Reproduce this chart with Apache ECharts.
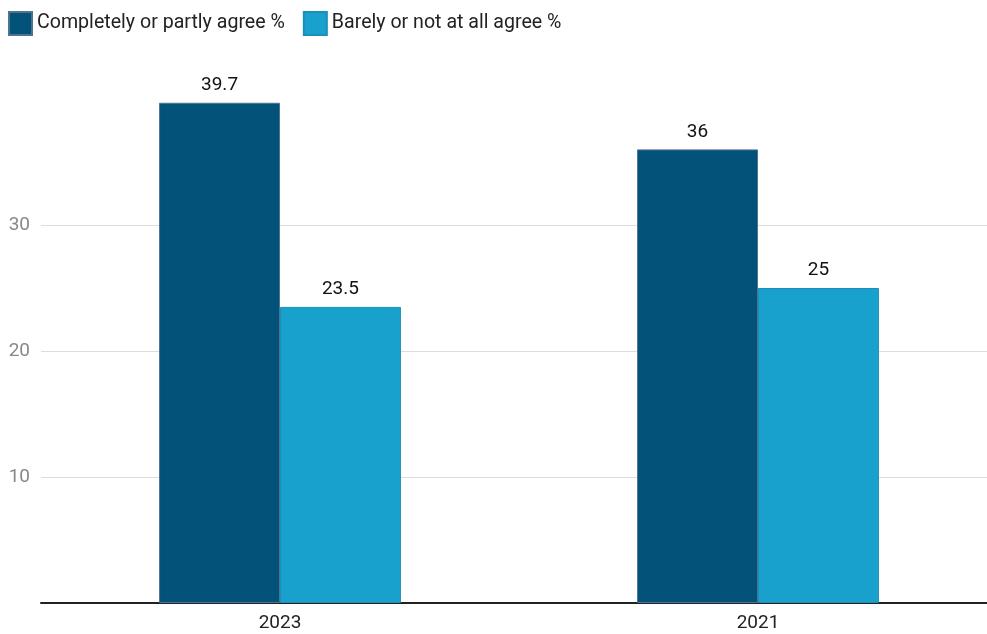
<!DOCTYPE html>
<html>
<head>
<meta charset="utf-8">
<script src="https://cdn.jsdelivr.net/npm/echarts@6/dist/echarts.min.js"></script>
<style>
  html, body { margin: 0; padding: 0; background: #fff; }
  #chart { width: 987px; height: 634px; }
</style>
</head>
<body>
<div id="chart"></div>
<script>
const years = ["2023", "2021"];
const agree = [39.7, 36];
const disagree = [23.5, 25];
const seriesNames = ["Completely or partly agree %", "Barely or not at all agree %"];

const chart = echarts.init(document.getElementById("chart"));

const labelStyle = {
  show: true,
  position: "top",
  distance: 8,
  color: "#111",
  fontSize: 19,
  fontFamily: "Roboto",
};

chart.setOption({
  animation: false,
  textStyle: { fontFamily: "Roboto" },
  legend: {
    left: 3,
    top: 6,
    itemWidth: 23,
    itemHeight: 23,
    itemGap: 18,
    icon: "rect",
    textStyle: { fontSize: 19.6, color: "#222", fontFamily: "Roboto", padding: [0, 0, 0, 0] },
    data: seriesNames,
  },
  // the plot runs a little past the right edge of the canvas
  grid: { left: 41, width: 956, top: 99, bottom: 31, outerBoundsMode: "none", containLabel: false },
  xAxis: {
    type: "category",
    data: years,
    axisLine: { lineStyle: { color: "#222", width: 2 } },
    axisTick: { show: false },
    axisLabel: { fontSize: 19, color: "#222", margin: 11, fontFamily: "Roboto" },
  },
  yAxis: {
    type: "value",
    min: 0,
    max: 40,
    interval: 10,
    axisLine: { show: false },
    axisTick: { show: false },
    axisLabel: {
      fontSize: 19,
      color: "#888",
      margin: 11,
      showMinLabel: false,
      showMaxLabel: false,
      fontFamily: "Roboto",
    },
    splitLine: { showMaxLine: false, lineStyle: { color: "#dddddd", width: 1 } },
  },
  series: [
    {
      name: seriesNames[0],
      type: "bar",
      data: agree,
      barGap: "0%",
      barCategoryGap: "49.4%",
      itemStyle: { color: "#03527a", borderColor: "#4d7391", borderWidth: 1 },
      label: labelStyle,
    },
    {
      name: seriesNames[1],
      type: "bar",
      data: disagree,
      itemStyle: { color: "#19a1ce", borderColor: "#1c8fb8", borderWidth: 1 },
      label: labelStyle,
    },
  ],
});
</script>
</body>
</html>
